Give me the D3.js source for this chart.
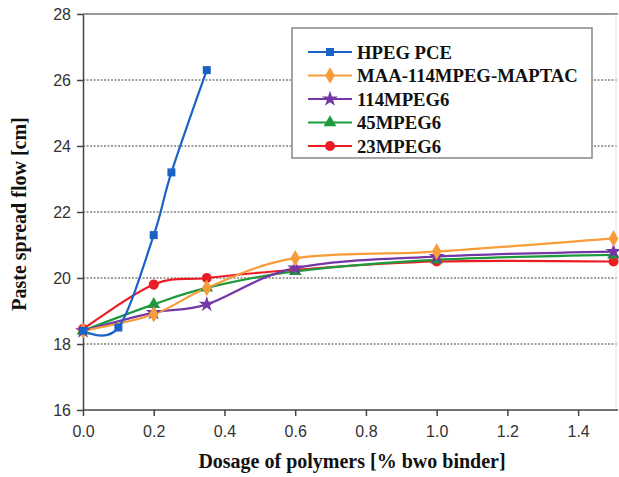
<!DOCTYPE html>
<html lang="en">
<head>
    <meta charset="UTF-8">
    <title>Paste spread flow</title>
    <script src="https://d3js.org/d3.v7.min.js"></script>
    <style>
        body { margin: 0; background: #fff; }
        .tick text { font-family: "Liberation Sans", Arial, sans-serif; font-size: 16px; fill: #333; }
        .title { font-family: "Liberation Serif", "Times New Roman", serif; font-weight: bold; font-size: 20px; fill: #111; }
        .legend text { font-family: "Liberation Serif", "Times New Roman", serif; font-weight: bold; font-size: 18.7px; fill: #111; }
    </style>
</head>
<body>
    <svg width="619" height="477"></svg>

    <script>
        // data
        const seriesNames = ["HPEG PCE", "MAA-114MPEG-MAPTAC", "114MPEG6", "45MPEG6", "23MPEG6"];
        const hpegX = [0, 0.1, 0.2, 0.25, 0.35];
        const hpegY = [18.4, 18.5, 21.3, 23.2, 26.3];
        const polyX = [0, 0.2, 0.35, 0.6, 1.0, 1.5];
        const maaY = [18.4, 18.9, 19.7, 20.6, 20.8, 21.2];
        const mpeg114Y = [18.4, 18.95, 19.2, 20.3, 20.65, 20.8];
        const mpeg45Y = [18.4, 19.2, 19.7, 20.2, 20.55, 20.7];
        const mpeg23Y = [18.45, 19.8, 20.0, 20.25, 20.5, 20.5];
        const yTicks = [16, 18, 20, 22, 24, 26, 28];
        const xTicks = [0, 0.2, 0.4, 0.6, 0.8, 1.0, 1.2, 1.4];

        const colors = ["#1a62c6", "#f89c3a", "#7438a6", "#1d9a3c", "#ec1c24"];
        const symbols = [d3.symbolSquare, d3.symbolDiamond, d3.symbolStar, d3.symbolTriangle, d3.symbolCircle];
        const symSizes = [64, 80, 80, 70, 80];

        const series = [
            {x: hpegX, y: hpegY},
            {x: polyX, y: maaY},
            {x: polyX, y: mpeg114Y},
            {x: polyX, y: mpeg45Y},
            {x: polyX, y: mpeg23Y}
        ].map((s, i) => ({
            name: seriesNames[i], color: colors[i], symbol: symbols[i], size: symSizes[i],
            points: s.x.map((v, j) => [v, s.y[j]])
        }));

        const svg = d3.select('svg');
        const plotL = 83, plotR = 613.5, plotT = 14, plotB = 410;

        const x = d3.scaleLinear().domain([0, 1.5]).range([plotL, plotR]);
        const y = d3.scaleLinear().domain([16, 28]).range([plotB, plotT]);

        // dashed grid
        svg.append('g')
            .selectAll('line')
            .data(yTicks.filter(t => t > 16 && t < 28))
            .enter().append('line')
            .attr('x1', plotL).attr('x2', 617)
            .attr('y1', d => y(d)).attr('y2', d => y(d))
            .attr('stroke', '#444').attr('stroke-width', 1)
            .attr('stroke-dasharray', '2,1.5');

        // frame top / right
        svg.append('line').attr('x1', plotL).attr('x2', 618).attr('y1', plotT).attr('y2', plotT)
            .attr('stroke', '#777').attr('stroke-width', 1.5);
        svg.append('line').attr('x1', 616).attr('x2', 616).attr('y1', plotT).attr('y2', plotB)
            .attr('stroke', '#e4e4e4').attr('stroke-width', 1);

        // axes
        const xAxis = svg.append('g')
            .attr('transform', `translate(0,${plotB})`)
            .call(d3.axisBottom(x).tickValues(xTicks).tickFormat(d3.format('.1f')).tickSize(6).tickSizeOuter(0));
        xAxis.select('.domain').attr('d', `M${plotL},0H618`);
        xAxis.selectAll('.tick text').attr('y', 10).attr('dy', '1.05em');

        const yAxis = svg.append('g')
            .attr('transform', `translate(${plotL},0)`)
            .call(d3.axisLeft(y).tickValues(yTicks).tickSize(6).tickSizeOuter(0));
        yAxis.selectAll('.tick text').attr('x', -12);

        svg.selectAll('.domain, .tick line').attr('stroke', '#444').attr('stroke-width', 1.5);

        // lines (smoothed like the source)
        const line = d3.line()
            .x(d => x(d[0]))
            .y(d => y(d[1]))
            .curve(d3.curveCardinal.tension(0));

        const order = [4, 3, 2, 1, 0];
        order.forEach(i => {
            const s = series[i];
            svg.append('path')
                .datum(s.points)
                .attr('d', line)
                .attr('fill', 'none')
                .attr('stroke', s.color)
                .attr('stroke-width', 2.2);
        });
        order.forEach(i => {
            const s = series[i];
            svg.append('g').selectAll('path')
                .data(s.points)
                .enter().append('path')
                .attr('d', d3.symbol().type(s.symbol).size(s.size))
                .attr('transform', d => `translate(${x(d[0])},${y(d[1])})`)
                .attr('fill', s.color);
        });

        // legend
        const legend = svg.append('g').attr('class', 'legend');
        legend.append('rect')
            .attr('x', 292).attr('y', 28).attr('width', 300).attr('height', 130)
            .attr('fill', '#fff').attr('stroke', '#888').attr('stroke-width', 1.5);
        series.forEach((s, i) => {
            const ly = 52 + i * 23.5;
            legend.append('line')
                .attr('x1', 308).attr('x2', 352).attr('y1', ly).attr('y2', ly)
                .attr('stroke', s.color).attr('stroke-width', 2.2);
            legend.append('path')
                .attr('d', d3.symbol().type(s.symbol).size(s.size))
                .attr('transform', `translate(330,${ly})`)
                .attr('fill', s.color);
            legend.append('text')
                .attr('x', 357).attr('y', ly + 6.5)
                .text(s.name);
        });

        // axis titles
        svg.append('text').attr('class', 'title')
            .attr('x', 352).attr('y', 468)
            .attr('text-anchor', 'middle')
            .text('Dosage of polymers [% bwo binder]');
        svg.append('text').attr('class', 'title')
            .attr('transform', `translate(26,${(plotT + plotB) / 2 + 2}) rotate(-90)`)
            .attr('text-anchor', 'middle')
            .text('Paste spread flow [cm]');
    </script>
</body>
</html>
